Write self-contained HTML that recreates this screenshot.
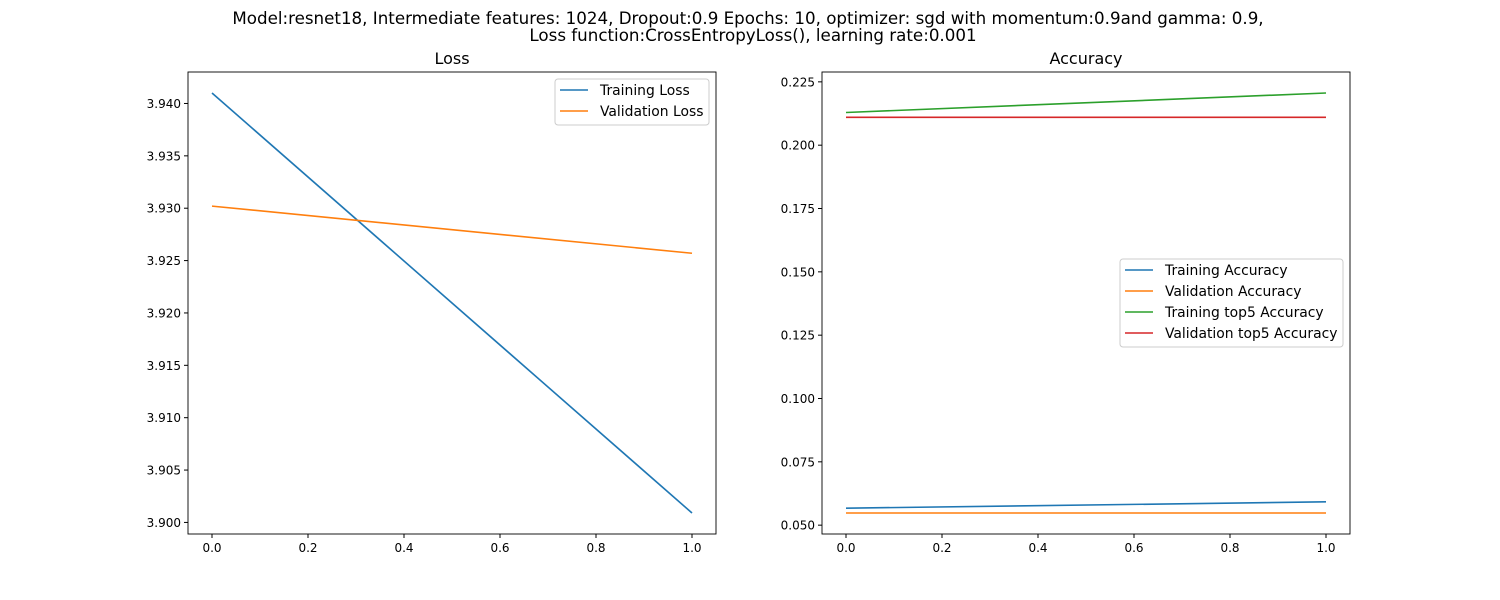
<!DOCTYPE html>
<html><head><meta charset="utf-8"><style>
body{margin:0;background:#fff;}
svg{display:block;font-family:"DejaVu Sans","Liberation Sans",sans-serif;}
</style></head><body>
<svg id="fig" width="1500" height="600" viewBox="0 0 1500 600">
<text x="748" y="24" font-size="16.7" text-anchor="middle">Model:resnet18, Intermediate features: 1024, Dropout:0.9 Epochs: 10, optimizer: sgd with momentum:0.9and gamma: 0.9,</text>
<text x="753" y="41" font-size="16.7" text-anchor="middle">Loss function:CrossEntropyLoss(), learning rate:0.001</text>
</svg>
<script>
const epochs=[0,1];
const trainLoss=[3.941,3.9009];
const valLoss=[3.9302,3.9257];
const lossTicks=[3.900,3.905,3.910,3.915,3.920,3.925,3.930,3.935,3.940];
const trainAcc=[0.0567,0.0592];
const valAcc=[0.0548,0.0548];
const trainTop5=[0.2129,0.2206];
const valTop5=[0.211,0.211];
const accTicks=[0.050,0.075,0.100,0.125,0.150,0.175,0.200,0.225];
const xTicks=[0,0.2,0.4,0.6,0.8,1.0];
const svg=document.getElementById('fig');
const NS='http://www.w3.org/2000/svg';
function mk(t,a,p){const e=document.createElementNS(NS,t);for(const k in a)e.setAttribute(k,a[k]);(p||svg).appendChild(e);return e;}
function panel(x0,x1,y0,y1,title,series,ticks,dec,legend){
  const all=series.flatMap(s=>s.v);let mn=Math.min(...all),mx=Math.max(...all);const m=(mx-mn)*0.05;mn-=m;mx+=m;
  const X=v=>x0+(v+0.05)/1.1*(x1-x0);const Y=v=>y1-(v-mn)/(mx-mn)*(y1-y0);
  const t=mk('text',{x:(x0+x1)/2,y:y0-8,'font-size':16,'text-anchor':'middle'});t.textContent=title;
  
  
  xTicks.forEach(v=>{mk('line',{x1:X(v),x2:X(v),y1:y1,y2:y1+4,stroke:'#000'});const l=mk('text',{x:X(v),y:y1+18,'font-size':12,'text-anchor':'middle'});l.textContent=v.toFixed(1);
    
    });
  ticks.forEach(v=>{mk('line',{x1:x0-4,x2:x0,y1:Y(v),y2:Y(v),stroke:'#000'});const l=mk('text',{x:x0-7,y:Y(v)+4.5,'font-size':12,'text-anchor':'end'});l.textContent=v.toFixed(dec);
    
    });
  series.forEach(s=>{const p=mk('polyline',{points:epochs.map((e,i)=>X(e)+','+Y(s.v[i])).join(' '),fill:'none',stroke:s.c,'stroke-width':1.6});
    
    });
  const r=mk('rect',{x:x0,y:y0,width:x1-x0,height:y1-y0,fill:'none',stroke:'#000','stroke-width':0.9});
  
  
  const g=mk('g',{});
  
  
  mk('rect',{x:legend.x,y:legend.y,width:legend.w,height:series.length*21+4,fill:'#fff',stroke:'#ccc',rx:3},g);
  series.forEach((s,i)=>{const yy=legend.y+11+i*21;mk('line',{x1:legend.x+5,x2:legend.x+33,y1:yy,y2:yy,stroke:s.c,'stroke-width':1.6},g);
    const l=mk('text',{x:legend.x+45,y:yy+5,'font-size':13.9},g);l.textContent=s.n;
    
    });
}
panel(188,716,72,534,'Loss',[{v:trainLoss,c:'#1f77b4',n:'Training Loss'},{v:valLoss,c:'#ff7f0e',n:'Validation Loss'}],lossTicks,3,{x:555,y:79,w:154});
panel(822,1350,72,534,'Accuracy',[{v:trainAcc,c:'#1f77b4',n:'Training Accuracy'},{v:valAcc,c:'#ff7f0e',n:'Validation Accuracy'},{v:trainTop5,c:'#2ca02c',n:'Training top5 Accuracy'},{v:valTop5,c:'#d62728',n:'Validation top5 Accuracy'}],accTicks,3,{x:1120,y:259,w:223});
</script>
</body></html>
